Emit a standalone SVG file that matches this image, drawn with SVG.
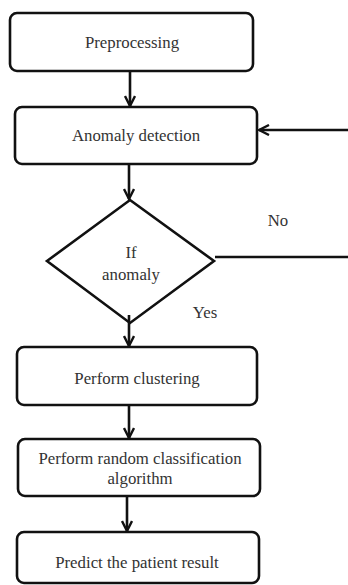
<svg xmlns="http://www.w3.org/2000/svg" width="348" height="585" viewBox="0 0 348 585">
<style>
.box{fill:#fff;stroke:#111;stroke-width:2.6}
.t{font-family:'Liberation Serif','Times New Roman','DejaVu Serif',serif;font-size:16.8px;fill:#333;text-anchor:middle}
.c{fill:none;stroke:#111;stroke-width:2.6}
</style>
<defs>
<marker id="ah" viewBox="0 0 12 12" refX="11" refY="6" markerWidth="12" markerHeight="12" markerUnits="userSpaceOnUse" orient="auto">
<path d="M1,1 L11,6 L1,11" fill="none" stroke="#111" stroke-width="2.4"/>
</marker>
</defs>
<rect width="348" height="585" fill="#fff"/>
<g id="preprocessing"><rect class="box" x="10" y="13" width="243" height="58" rx="7"/><text class="t" x="132" y="48">Preprocessing</text></g>
<g id="anomaly-detection"><rect class="box" x="15" y="107" width="242" height="57" rx="7"/><text class="t" x="136" y="141">Anomaly detection</text></g>
<g id="if-anomaly"><polygon class="box" points="130,200 214,261 130,323 47,261"/><text class="t" x="131" y="258">If</text><text class="t" x="131" y="280">anomaly</text></g>
<g id="perform-clustering"><rect class="box" x="17" y="347" width="240" height="58" rx="7"/><text class="t" x="137" y="384">Perform clustering</text></g>
<g id="random-classification"><rect class="box" x="18" y="439" width="242" height="57" rx="7"/><text class="t" x="140" y="464">Perform random classification</text><text class="t" x="140" y="484">algorithm</text></g>
<g id="predict"><rect class="box" x="17" y="532" width="242" height="51" rx="7"/><text class="t" x="137" y="568">Predict the patient result</text></g>
<g id="connectors">
<line class="c" x1="130" y1="71" x2="130" y2="106" marker-end="url(#ah)"/>
<line class="c" x1="129" y1="164" x2="129" y2="199" marker-end="url(#ah)"/>
<line class="c" x1="129" y1="315" x2="129" y2="346" marker-end="url(#ah)"/>
<line class="c" x1="129" y1="405" x2="129" y2="438" marker-end="url(#ah)"/>
<line class="c" x1="127" y1="496" x2="127" y2="531" marker-end="url(#ah)"/>
<line class="c" x1="215" y1="257" x2="348" y2="257"/>
<line class="c" x1="348" y1="130" x2="259" y2="130" marker-end="url(#ah)"/>
<text class="t" x="278" y="226">No</text>
<text class="t" x="205" y="318">Yes</text>
</g>
</svg>
